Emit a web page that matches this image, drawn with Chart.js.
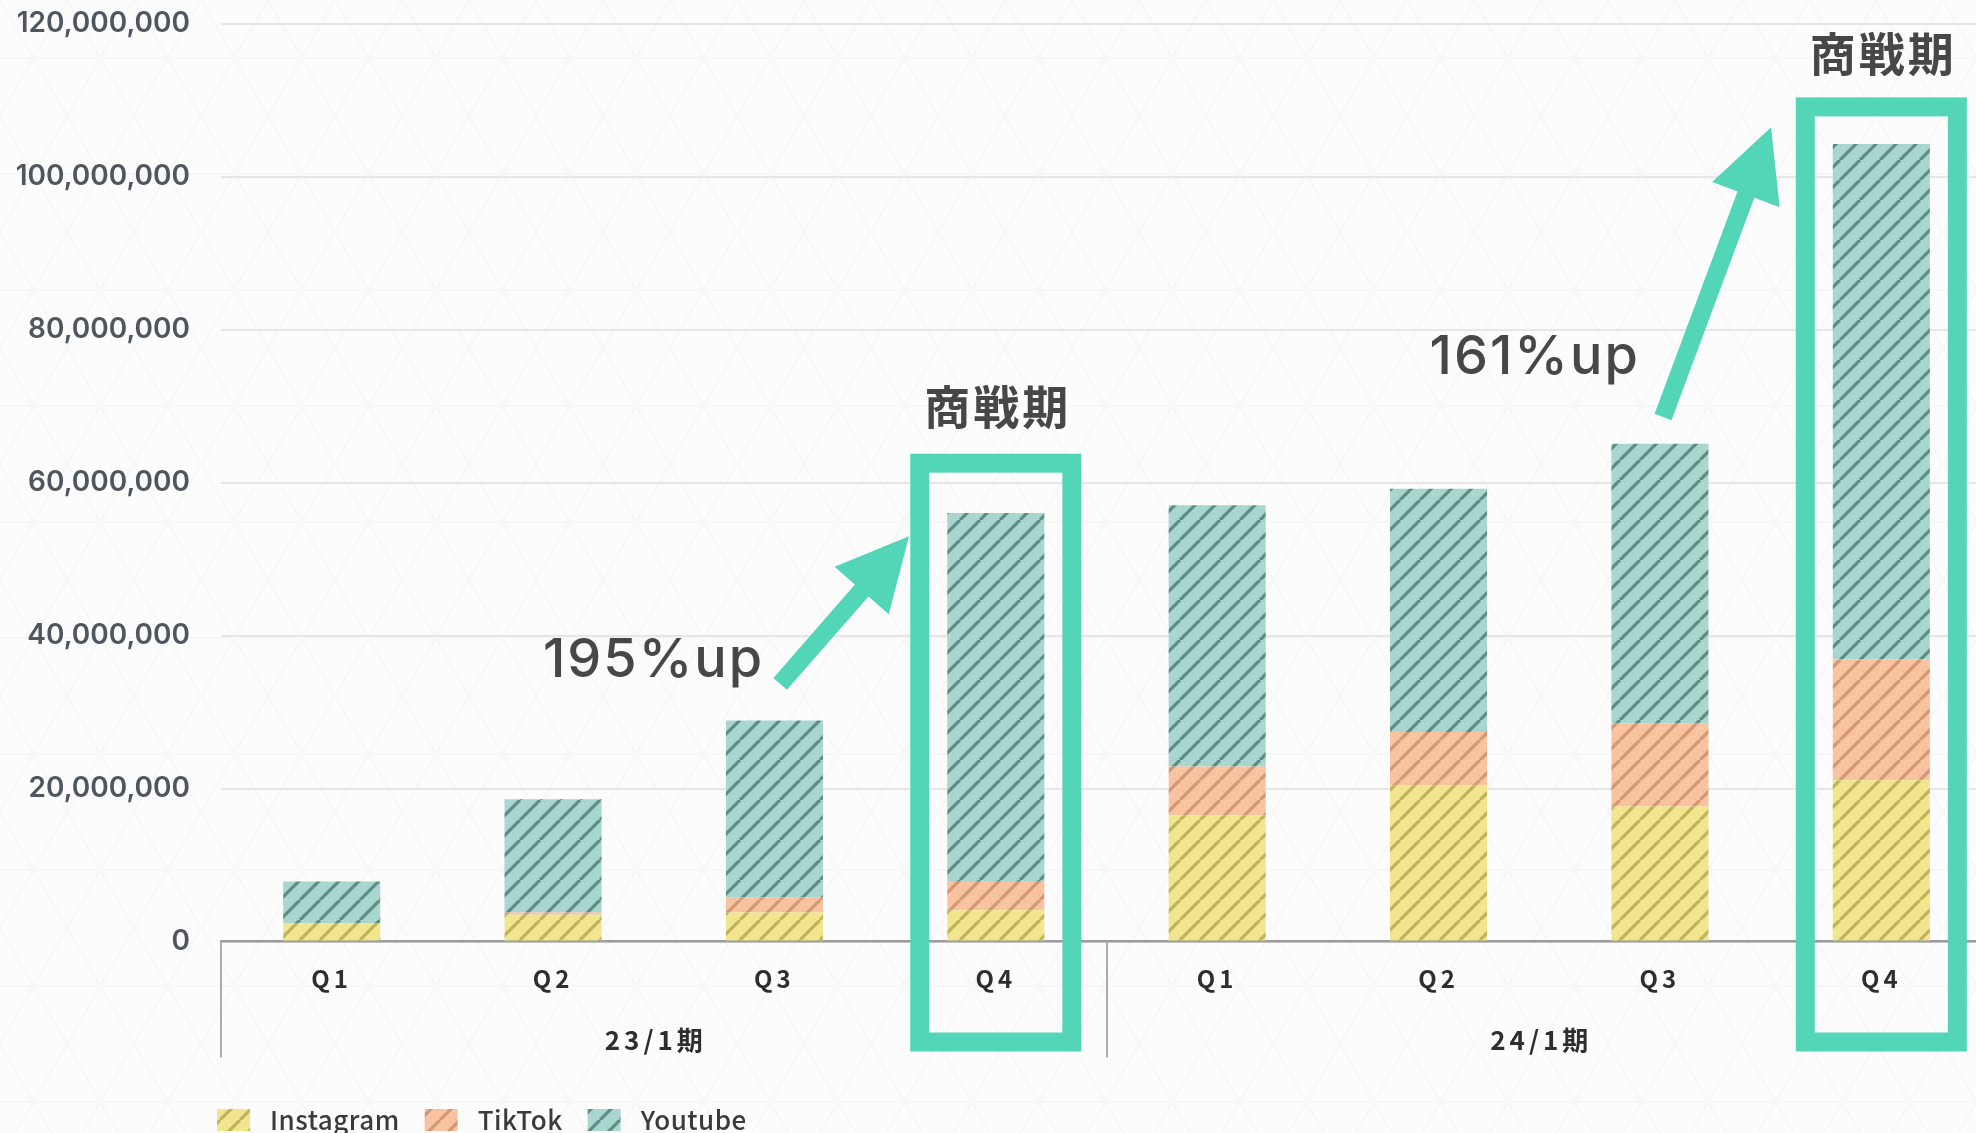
<!DOCTYPE html>
<html>
<head>
<meta charset="utf-8">
<script src="https://cdn.jsdelivr.net/npm/chart.js@4.4.1/dist/chart.umd.min.js"></script>
<style>
html,body{margin:0;padding:0;overflow:hidden;width:1976px;height:1133px;background:#fcfcfc;}
#wrap{position:absolute;left:0;top:0;width:1994px;height:1133px;}
canvas{display:block;}
</style>
</head>
<body>
<div id="wrap"><canvas id="c" width="1994" height="1133"></canvas></div>
<script>
// ---- data ----
const categories = ['Q1','Q2','Q3','Q4','Q1','Q2','Q3','Q4'];
const periods = ['23/1期','24/1期'];
const periodSize = 4;
const seriesNames = ['Instagram','TikTok','Youtube'];
const instagram = [2350000, 3500000, 3800000, 4100000, 16500000, 20450000, 17660000, 21100000];
const tiktok    = [0, 300000, 2000000, 3800000, 6400000, 6950000, 10840000, 15800000];
const youtube   = [5500000, 14800000, 23100000, 48150000, 34150000, 31800000, 36600000, 67400000];
const yTickValues = [0, 20000000, 40000000, 60000000, 80000000, 100000000, 120000000];
const highlightIndex = [3, 7];
const growthLabels = ['195%up', '161%up'];
const seasonLabel = '商戦期';

// ---- background lattice ----
const svg = "<svg xmlns='http://www.w3.org/2000/svg' width='67' height='116'><g stroke='#000' stroke-opacity='0.018' stroke-width='2' fill='none'><path d='M0 0L67 116M67 0L0 116M0 58H67'/></g></svg>";
document.body.style.backgroundImage = 'url("data:image/svg+xml,' + encodeURIComponent(svg) + '")';

const canvas = document.getElementById('c');
const cctx = canvas.getContext('2d');
function makePattern(bg, fg){
  const s = 20;
  const c = document.createElement('canvas'); c.width = s; c.height = s;
  const g = c.getContext('2d');
  g.fillStyle = bg; g.fillRect(0,0,s,s);
  g.strokeStyle = fg; g.lineWidth = 3.2;
  g.beginPath();
  for (let k=-1;k<=1;k++){ g.moveTo(k*s, s); g.lineTo(k*s+s, 0); }
  g.stroke();
  return cctx.createPattern(c,'repeat');
}
const colors = [
  makePattern('#f1e68d','rgba(150,138,55,0.55)'),
  makePattern('#f7c3a1','rgba(185,115,75,0.55)'),
  makePattern('#a9d6cf','rgba(62,112,104,0.72)')
];
const TEAL = '#52d6b7';

function drawArrow(ctx, x0,y0,x1,y1, shaft, headLen, headW){
  const dx=x1-x0, dy=y1-y0, L=Math.hypot(dx,dy);
  const ux=dx/L, uy=dy/L, px=-uy, py=ux;
  const bx=x1-ux*headLen, by=y1-uy*headLen;
  ctx.beginPath();
  ctx.moveTo(x0+px*shaft/2, y0+py*shaft/2);
  ctx.lineTo(bx+px*shaft/2, by+py*shaft/2);
  ctx.lineTo(bx+px*headW/2, by+py*headW/2);
  ctx.lineTo(x1,y1);
  ctx.lineTo(bx-px*headW/2, by-py*headW/2);
  ctx.lineTo(bx-px*shaft/2, by-py*shaft/2);
  ctx.lineTo(x0-px*shaft/2, y0-py*shaft/2);
  ctx.closePath(); ctx.fill();
}

// annotation placements in scale units (category index, value)
const arrows = [
  {from:[2.026, 33700000], to:[2.608, 53000000]},
  {from:[6.014, 68600000], to:[6.502, 106500000]}
];
const growthPos = [[1.454, 34600000],[5.434, 74200000]];
const seasonPos = [[3.0, 70000000],[7.0, 116200000]];
const boxTop = [63800000, 110400000];

const annot = {
  id:'annot',
  afterLayout(chart){
    const xs = chart.scales.x;
    if (!xs._ls){
      const o = xs.drawLabels;
      xs.drawLabels = function(a){ const c=this.ctx; c.save(); c.letterSpacing='4px'; o.call(this,a); c.restore(); };
      xs._ls = true;
    }
  },
  afterDraw(chart){
    const {ctx, chartArea, scales:{x,y}} = chart;
    const bottom = chartArea.bottom;
    ctx.save();
    // period separators
    ctx.strokeStyle = '#ababab'; ctx.lineWidth = 2;
    for (let p=0;p<periods.length;p++){
      const xp = Math.round(x.getPixelForValue(p*periodSize - 0.5));
      ctx.beginPath(); ctx.moveTo(xp, bottom); ctx.lineTo(xp, bottom+116); ctx.stroke();
    }
    // period labels
    ctx.fillStyle = '#2e2e2e'; ctx.font = 'bold 26px "Noto Sans CJK JP"';
    ctx.textAlign = 'center'; ctx.textBaseline = 'middle'; ctx.letterSpacing = '4px';
    for (let p=0;p<periods.length;p++){
      const xc = x.getPixelForValue(p*periodSize + (periodSize-1)/2);
      ctx.fillText(periods[p], xc - 8, bottom + 99);
    }
    // highlight boxes
    ctx.strokeStyle = TEAL; ctx.lineWidth = 19;
    highlightIndex.forEach((idx,i)=>{
      const bar = chart.getDatasetMeta(2).data[idx];
      const half = bar.width/2 + 37;
      const top = y.getPixelForValue(boxTop[i]);
      const bot = bottom + 110;
      ctx.strokeRect(bar.x - half + 9.5, top + 9.5, 2*half - 19, bot - top - 19);
    });
    // arrows
    ctx.fillStyle = TEAL;
    arrows.forEach(a=>{
      drawArrow(ctx, x.getPixelForValue(a.from[0]), y.getPixelForValue(a.from[1]),
                     x.getPixelForValue(a.to[0]), y.getPixelForValue(a.to[1]), 18, 72, 72);
    });
    // growth labels
    ctx.fillStyle = '#474747'; ctx.font = '500 54px Inter'; ctx.letterSpacing = '2px';
    ctx.textAlign = 'center'; ctx.textBaseline = 'alphabetic';
    growthLabels.forEach((t,i)=>{
      ctx.fillText(t, x.getPixelForValue(growthPos[i][0]), y.getPixelForValue(growthPos[i][1]));
    });
    // season labels
    ctx.fillStyle = '#474747'; ctx.font = 'bold 46px "Noto Sans CJK JP"'; ctx.letterSpacing = '3px';
    ctx.textBaseline = 'middle';
    seasonPos.forEach(p=>{
      ctx.fillText(seasonLabel, x.getPixelForValue(p[0]) + 2, y.getPixelForValue(p[1]));
    });
    // legend
    ctx.letterSpacing = '0.5px';
    ctx.font = '500 26px "Noto Sans CJK JP"'; ctx.textAlign = 'left'; ctx.textBaseline = 'middle';
    let lx = 217; const ly = 1120;
    seriesNames.forEach((n,i)=>{
      ctx.fillStyle = colors[i];
      ctx.fillRect(lx, ly-11, 33, 22);
      lx += 33 + 20;
      ctx.fillStyle = '#3a3a3a';
      ctx.fillText(n, lx, ly);
      lx += ctx.measureText(n).width + 25;
    });
    ctx.restore();
  }
};

new Chart(canvas, {
  type:'bar',
  data:{
    labels: categories,
    datasets:[
      {label:seriesNames[0], data:instagram, backgroundColor:colors[0]},
      {label:seriesNames[1], data:tiktok, backgroundColor:colors[1]},
      {label:seriesNames[2], data:youtube, backgroundColor:colors[2]}
    ]
  },
  options:{
    responsive:false, animation:false, devicePixelRatio:1,
    categoryPercentage:0.8, barPercentage:0.548,
    layout:{padding:{top:24, right:2, left:0, bottom:0}},
    plugins:{legend:{display:false}, tooltip:{enabled:false}},
    scales:{
      x:{
        stacked:true,
        grid:{display:false, drawTicks:false},
        border:{display:true, color:'#9d9d9d', width:2.5},
        ticks:{padding:23, color:'#2e2e2e', font:{family:'"Noto Sans CJK JP"', size:24, weight:'bold'}},
        afterFit(s){ s.height = 191.5; s.paddingLeft = 0; s.paddingRight = 0; }
      },
      y:{
        stacked:true, min:0, max:120000000,
        afterBuildTicks(s){ s.ticks = yTickValues.map(v=>({value:v})); },
        grid:{color:'#e6e6e6', lineWidth:2, drawTicks:false},
        border:{display:false},
        ticks:{padding:31, color:'#4f565d', font:{family:'Inter', size:28, weight:'600'},
               callback:v=>Number(v).toLocaleString('en-US')},
        afterFit(s){ s.width = 221; s.paddingTop = 0; s.paddingBottom = 0; }
      }
    }
  },
  plugins:[annot]
});
</script>
</body>
</html>
